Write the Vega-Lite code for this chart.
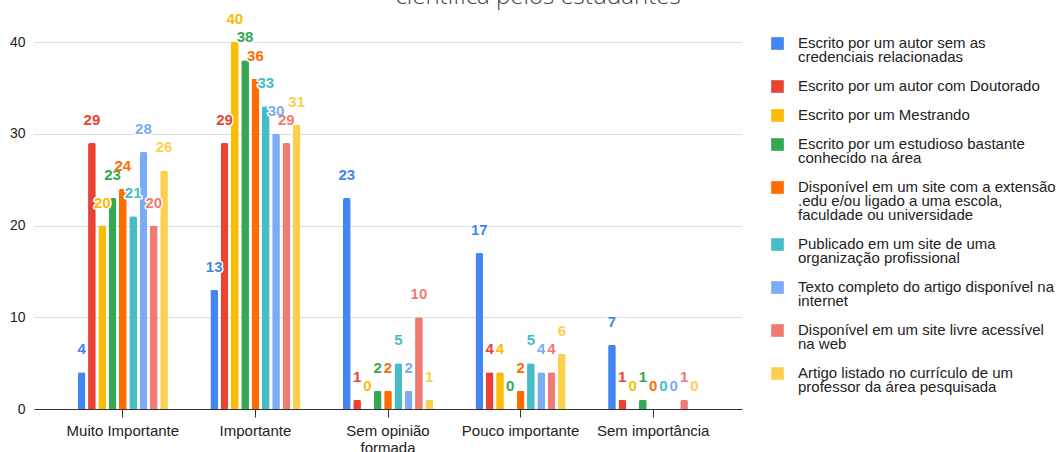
{
  "$schema": "https://vega.github.io/schema/vega-lite/v6.json",
  "autosize": {"type": "none"},
  "width": 708,
  "height": 367,
  "padding": {"top": 42, "left": 34, "right": 314, "bottom": 43},
  "background": "white",
  "title": {
    "text": "científica pelos estudantes",
    "font": "Open Sans",
    "fontSize": 24,
    "fontWeight": 300,
    "color": "#444444",
    "anchor": "middle",
    "frame": "group",
    "baseline": "bottom",
    "offset": 0,
    "dy": 21,
    "dx": 150
  },
  "config": {
    "view": {"stroke": null},
    "font": "Liberation Sans",
    "axis": {"labelFont": "Liberation Sans", "labelFontSize": 15, "labelColor": "#222222"},
    "legend": {"labelFont": "Liberation Sans", "labelFontSize": 15, "labelColor": "#222222"}
  },
  "data": {
    "values": [
      {"resposta": "Muito Importante", "serie": "Escrito por um autor sem as credenciais relacionadas", "n": 4},
      {"resposta": "Muito Importante", "serie": "Escrito por um autor com Doutorado", "n": 29},
      {"resposta": "Muito Importante", "serie": "Escrito por um Mestrando", "n": 20},
      {"resposta": "Muito Importante", "serie": "Escrito por um estudioso bastante conhecido na área", "n": 23},
      {"resposta": "Muito Importante", "serie": "Disponível em um site com a extensão .edu e/ou ligado a uma escola, faculdade ou universidade", "n": 24},
      {"resposta": "Muito Importante", "serie": "Publicado em um site de uma organização profissional", "n": 21},
      {"resposta": "Muito Importante", "serie": "Texto completo do artigo disponível na internet", "n": 28},
      {"resposta": "Muito Importante", "serie": "Disponível em um site livre acessível na web", "n": 20},
      {"resposta": "Muito Importante", "serie": "Artigo listado no currículo de um professor da área pesquisada", "n": 26},
      {"resposta": "Importante", "serie": "Escrito por um autor sem as credenciais relacionadas", "n": 13},
      {"resposta": "Importante", "serie": "Escrito por um autor com Doutorado", "n": 29},
      {"resposta": "Importante", "serie": "Escrito por um Mestrando", "n": 40},
      {"resposta": "Importante", "serie": "Escrito por um estudioso bastante conhecido na área", "n": 38},
      {"resposta": "Importante", "serie": "Disponível em um site com a extensão .edu e/ou ligado a uma escola, faculdade ou universidade", "n": 36},
      {"resposta": "Importante", "serie": "Publicado em um site de uma organização profissional", "n": 33},
      {"resposta": "Importante", "serie": "Texto completo do artigo disponível na internet", "n": 30},
      {"resposta": "Importante", "serie": "Disponível em um site livre acessível na web", "n": 29},
      {"resposta": "Importante", "serie": "Artigo listado no currículo de um professor da área pesquisada", "n": 31},
      {"resposta": "Sem opinião formada", "serie": "Escrito por um autor sem as credenciais relacionadas", "n": 23},
      {"resposta": "Sem opinião formada", "serie": "Escrito por um autor com Doutorado", "n": 1},
      {"resposta": "Sem opinião formada", "serie": "Escrito por um Mestrando", "n": 0},
      {"resposta": "Sem opinião formada", "serie": "Escrito por um estudioso bastante conhecido na área", "n": 2},
      {"resposta": "Sem opinião formada", "serie": "Disponível em um site com a extensão .edu e/ou ligado a uma escola, faculdade ou universidade", "n": 2},
      {"resposta": "Sem opinião formada", "serie": "Publicado em um site de uma organização profissional", "n": 5},
      {"resposta": "Sem opinião formada", "serie": "Texto completo do artigo disponível na internet", "n": 2},
      {"resposta": "Sem opinião formada", "serie": "Disponível em um site livre acessível na web", "n": 10},
      {"resposta": "Sem opinião formada", "serie": "Artigo listado no currículo de um professor da área pesquisada", "n": 1},
      {"resposta": "Pouco importante", "serie": "Escrito por um autor sem as credenciais relacionadas", "n": 17},
      {"resposta": "Pouco importante", "serie": "Escrito por um autor com Doutorado", "n": 4},
      {"resposta": "Pouco importante", "serie": "Escrito por um Mestrando", "n": 4},
      {"resposta": "Pouco importante", "serie": "Escrito por um estudioso bastante conhecido na área", "n": 0},
      {"resposta": "Pouco importante", "serie": "Disponível em um site com a extensão .edu e/ou ligado a uma escola, faculdade ou universidade", "n": 2},
      {"resposta": "Pouco importante", "serie": "Publicado em um site de uma organização profissional", "n": 5},
      {"resposta": "Pouco importante", "serie": "Texto completo do artigo disponível na internet", "n": 4},
      {"resposta": "Pouco importante", "serie": "Disponível em um site livre acessível na web", "n": 4},
      {"resposta": "Pouco importante", "serie": "Artigo listado no currículo de um professor da área pesquisada", "n": 6},
      {"resposta": "Sem importância", "serie": "Escrito por um autor sem as credenciais relacionadas", "n": 7},
      {"resposta": "Sem importância", "serie": "Escrito por um autor com Doutorado", "n": 1},
      {"resposta": "Sem importância", "serie": "Escrito por um Mestrando", "n": 0},
      {"resposta": "Sem importância", "serie": "Escrito por um estudioso bastante conhecido na área", "n": 1},
      {"resposta": "Sem importância", "serie": "Disponível em um site com a extensão .edu e/ou ligado a uma escola, faculdade ou universidade", "n": 0},
      {"resposta": "Sem importância", "serie": "Publicado em um site de uma organização profissional", "n": 0},
      {"resposta": "Sem importância", "serie": "Texto completo do artigo disponível na internet", "n": 0},
      {"resposta": "Sem importância", "serie": "Disponível em um site livre acessível na web", "n": 1},
      {"resposta": "Sem importância", "serie": "Artigo listado no currículo de um professor da área pesquisada", "n": 0}
    ]
  },
  "encoding": {
    "x": {
      "field": "resposta",
      "type": "nominal",
      "sort": ["Muito Importante", "Importante", "Sem opinião formada", "Pouco importante", "Sem importância"],
      "scale": {"paddingInner": 0.32, "paddingOuter": 0.33},
      "axis": {
        "title": null,
        "labelAngle": 0,
        "domainColor": "#333333",
        "tickColor": "#333333",
        "tickSize": 8,
        "labelPadding": 6,
        "grid": false,
        "labelExpr": "datum.label == 'Sem opinião formada' ? ['Sem opinião', 'formada'] : datum.label"
      }
    },
    "xOffset": {
      "field": "serie",
      "type": "nominal",
      "sort": [
        "Escrito por um autor sem as credenciais relacionadas",
        "Escrito por um autor com Doutorado",
        "Escrito por um Mestrando",
        "Escrito por um estudioso bastante conhecido na área",
        "Disponível em um site com a extensão .edu e/ou ligado a uma escola, faculdade ou universidade",
        "Publicado em um site de uma organização profissional",
        "Texto completo do artigo disponível na internet",
        "Disponível em um site livre acessível na web",
        "Artigo listado no currículo de um professor da área pesquisada"
      ],
      "scale": {"paddingInner": 0.25, "paddingOuter": 0}
    },
    "y": {
      "field": "n",
      "type": "quantitative",
      "scale": {"domain": [0, 40], "nice": false},
      "axis": {
        "title": null,
        "values": [0, 10, 20, 30, 40],
        "domain": false,
        "ticks": false,
        "labelPadding": 9,
        "labelFontSize": 14,
        "gridColor": "#dddddd",
        "gridWidth": 1
      }
    },
    "color": {
      "field": "serie",
      "type": "nominal",
      "scale": {
        "domain": [
          "Escrito por um autor sem as credenciais relacionadas",
          "Escrito por um autor com Doutorado",
          "Escrito por um Mestrando",
          "Escrito por um estudioso bastante conhecido na área",
          "Disponível em um site com a extensão .edu e/ou ligado a uma escola, faculdade ou universidade",
          "Publicado em um site de uma organização profissional",
          "Texto completo do artigo disponível na internet",
          "Disponível em um site livre acessível na web",
          "Artigo listado no currículo de um professor da área pesquisada"
        ],
        "range": ["#4285F4", "#EA4335", "#FBBC04", "#34A853", "#FF6D01", "#46BDC6", "#7BAAF7", "#F07B72", "#FCD04F"]
      },
      "legend": {
        "title": null,
        "orient": "none",
        "legendX": 736,
        "legendY": -6,
        "symbolType": "square",
        "symbolSize": 160,
        "symbolStrokeWidth": 0,
        "symbolOpacity": 1,
        "labelOffset": 13,
        "labelLimit": 400,
        "rowPadding": 13,
        "labelBaseline": "top",
        "encoding": {
          "labels": {"lineHeight": {"value": 14}, "dy": {"value": -8}}
        },
        "labelExpr": "datum.label == 'Escrito por um autor sem as credenciais relacionadas' ? ['Escrito por um autor sem as', 'credenciais relacionadas'] : datum.label == 'Escrito por um estudioso bastante conhecido na área' ? ['Escrito por um estudioso bastante', 'conhecido na área'] : datum.label == 'Disponível em um site com a extensão .edu e/ou ligado a uma escola, faculdade ou universidade' ? ['Disponível em um site com a extensão', '.edu e/ou ligado a uma escola,', 'faculdade ou universidade'] : datum.label == 'Publicado em um site de uma organização profissional' ? ['Publicado em um site de uma', 'organização profissional'] : datum.label == 'Texto completo do artigo disponível na internet' ? ['Texto completo do artigo disponível na', 'internet'] : datum.label == 'Disponível em um site livre acessível na web' ? ['Disponível em um site livre acessível', 'na web'] : datum.label == 'Artigo listado no currículo de um professor da área pesquisada' ? ['Artigo listado no currículo de um', 'professor da área pesquisada'] : datum.label"
      }
    }
  },
  "layer": [
    {
      "mark": {"type": "bar", "cornerRadiusTopLeft": 2, "cornerRadiusTopRight": 2}
    },
    {
      "mark": {"type": "text", "font": "Liberation Sans", "fontWeight": "bold", "fontSize": 15, "baseline": "middle", "dy": -23, "stroke": "white", "strokeWidth": 3, "strokeJoin": "round"},
      "encoding": {"text": {"field": "n", "type": "quantitative"}}
    },
    {
      "mark": {"type": "text", "font": "Liberation Sans", "fontWeight": "bold", "fontSize": 15, "baseline": "middle", "dy": -23},
      "encoding": {"text": {"field": "n", "type": "quantitative"}}
    }
  ]
}
